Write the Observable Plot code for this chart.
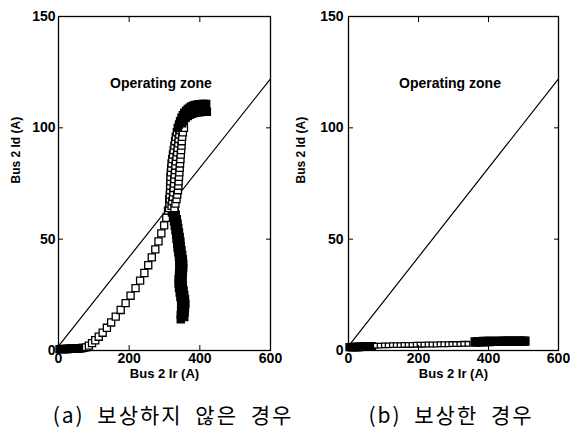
<!DOCTYPE html>
<html><head><meta charset="utf-8">
<script src="https://cdn.jsdelivr.net/npm/d3@7"></script>
<script src="https://cdn.jsdelivr.net/npm/@observablehq/plot@0.6"></script>
<style>
body{margin:0;background:#fff;}
#wrap{position:relative;width:570px;height:429px;overflow:hidden;background:#fff;}
#left,#right{position:absolute;top:0;}
#left{left:0px} #right{left:285px}
.cap{position:absolute;top:400px;font-family:"Noto Sans CJK KR",sans-serif;font-size:21px;line-height:28px;text-align:center;color:#000;white-space:nowrap;word-spacing:6px;letter-spacing:2px;}
</style></head><body>
<div id="wrap"><div id="left"></div><div id="right"></div>
<div class="cap" id="capA"></div><div class="cap" id="capB"></div></div>
<script>
// ---- texts / ticks ----
const xTicks = [0, 200, 400, 600];
const yTicks = [0, 50, 100, 150];
const xLabel = "Bus 2 Ir (A)";
const yLabel = "Bus 2 Id (A)";
const zoneLabel = "Operating zone";
const zoneIr = 290, zoneId = 120;
const captions = ["(a) 보상하지 않은 경우", "(b) 보상한 경우"];

// ---- operating characteristic line ----
const lineIr = [0, 600];
const lineId = [2, 122];

// ---- (a) without compensation ----
const aOriginIr = [3,7,11,15,19,23,27,31,35,39,43,47,51,55,59,63,67,71];
const aOriginId = [0.6,0.6,0.6,0.7,0.7,0.7,0.7,0.8,0.8,0.8,0.8,0.9,0.9,0.9,1.0,1.0,1.1,1.2];
const aRiseIr = [78,86,95,104,114,125,137,149,162,176,190,204,218,231,243,254,264,274,283,291,299,305,310];
const aRiseId = [1.4,2.2,3.3,4.6,6.2,8.0,10.2,12.6,15.2,18.2,21.3,24.6,28.0,31.4,34.8,38.3,41.8,45.4,49.0,52.6,56.2,59.6,62.8];
const aColAIr = [313,314,315,315,316,316,317,317,318,319,320,322,324,326,328,330,332,335,338];
const aColAId = [64,66,68,70,72,74,76,78,80,82,84,86,88,90,92,94,96,98,100];
const aColMIr = [320,322,324,325,326,327,328,329,330,331,332,334,336,337,339,340,342,344,347];
const aColMId = [65,67,69,71,73,75,77,79,81,83,85,87,89,91,93,95,97,99,101];
const aColBIr = [328,331,334,336,338,339,340,341,342,343,344,345,346,347,348,349,350,352,355];
const aColBId = [64,66,68,70,72,74,76,78,80,82,84,86,88,90,92,94,96,98,100];
const aArcIr = [338,341,344,348,352,356,361,366,371,376,382,388,394,400,406,412,418,350,355,360,366,372,378,384,390,396,402,408,414,420];
const aArcId = [100,101.5,103,104.5,105.7,106.8,107.7,108.5,109.1,109.6,110,110.3,110.5,110.6,110.7,110.7,110.7,102,103.5,104.5,105.3,105.9,106.3,106.6,106.8,107,107.1,107.2,107.2,107.2];
const aTrailLIr = [314,316,318,321,324,327,329,331,333,334,336,337,339,341,342,342,342,341,340,340,341,343,345,347,348,347,346,346];
const aTrailLId = [68,66,64,62,60,58,56,54,52,50,48,46,44,42,40,38,36,34,32,30,28,26,24,22,20,18,16,14];
const aTrailRIr = [326,329,332,335,337,339,341,343,345,346,348,350,352,353,353,352,351,351,352,354,356,358,359,358,357,356];
const aTrailRId = [65,63,61,59,57,55,53,51,49,47,45,43,41,39,37,35,33,31,29,27,25,23,21,19,17,15];

// ---- (b) with compensation ----
const bOriginIr = [3,7,11,15,19,23,27,31,35,39,43,47,51,55,59,63,67];
const bOriginId = [1.5,1.5,1.5,1.6,1.6,1.6,1.6,1.6,1.7,1.7,1.7,1.7,1.8,1.8,1.8,1.8,1.8];
const bSparseIr = [78,89,101,112,124,135,146,157,169,180,192,203,214,226,237,249,260,271,283,294,305,317,328,340];
const bSparseId = [2.2,2.2,2.3,2.3,2.4,2.4,2.4,2.5,2.5,2.5,2.6,2.6,2.6,2.7,2.7,2.7,2.8,2.8,2.8,2.9,2.9,2.9,3.0,3.0];
const bBlockIr = [362,370,378,386,394,402,410,418,426,434,442,450,458,466,474,482,490,498,504];
const bBlockId = [3.8,3.9,3.9,4.0,4.0,4.0,4.1,4.1,4.1,4.1,4.2,4.2,4.2,4.2,4.2,4.2,4.2,4.2,4.2];

const pts = (xs, ys) => xs.map((x, i) => ({x, y: ys[i]}));
const FONT = "'Liberation Sans', Arial, sans-serif";

function openSq(xs, ys, r = 4) {
  return Plot.dot(pts(xs, ys), {x: "x", y: "y", symbol: "square", r, stroke: "black", fill: "white", strokeWidth: 1.3});
}
function fillSq(xs, ys, r = 4) {
  return Plot.dot(pts(xs, ys), {x: "x", y: "y", symbol: "square", r, stroke: "black", fill: "black", strokeWidth: 1.3});
}

function chart({mL, mR, yPad, yLabDx, dataMarks}) {
  return Plot.plot({
    width: 285, height: 392,
    marginLeft: mL, marginRight: mR, marginTop: 16, marginBottom: 42,
    x: {domain: [0, 600]},
    y: {domain: [0, 150]},
    style: {fontFamily: FONT, fontSize: "14px", fontWeight: "bold", background: "white", color: "black", overflow: "visible"},
    marks: [
      Plot.line(pts(lineIr, lineId), {x: "x", y: "y", stroke: "black", strokeWidth: 1.2}),
      ...dataMarks,
      Plot.frame({stroke: "black", strokeWidth: 1.3}),
      Plot.axisX(xTicks, {anchor: "bottom", tickSize: -5, tickPadding: 8, label: null, fontSize: 14}),
      Plot.axisX(xTicks, {anchor: "top", tickSize: -5, tickFormat: () => "", label: null}),
      Plot.axisY(yTicks, {anchor: "left", tickSize: -5, tickPadding: yPad, label: null, fontSize: 14}),
      Plot.axisY(yTicks, {anchor: "right", tickSize: -5, tickFormat: () => "", label: null}),
      Plot.text([xLabel], {frameAnchor: "bottom", dy: 27, fontSize: 13, fontWeight: "bold"}),
      Plot.text([yLabel], {frameAnchor: "left", dx: yLabDx, rotate: -90, fontSize: 12, fontWeight: "bold"}),
      Plot.text([{x: zoneIr, y: zoneId, t: zoneLabel}], {x: "x", y: "y", text: "t", fontSize: 14, fontWeight: "bold"})
    ]
  });
}

document.getElementById("left").appendChild(chart({
  mL: 58, mR: 15, yPad: 8, yLabDx: -42,
  dataMarks: [
    fillSq(aOriginIr, aOriginId),
    openSq(aRiseIr, aRiseId),
    fillSq(aTrailLIr, aTrailLId),
    fillSq(aTrailRIr, aTrailRId),
    openSq(aColAIr, aColAId),
    openSq(aColMIr, aColMId),
    openSq(aColBIr, aColBId),
    fillSq(aArcIr, aArcId)
  ]
}));
document.getElementById("right").appendChild(chart({
  mL: 63, mR: 12, yPad: 10, yLabDx: -47,
  dataMarks: [
    fillSq(bOriginIr, bOriginId),
    openSq(bSparseIr, bSparseId, 2.6),
    fillSq(bBlockIr, bBlockId, 4.6)
  ]
}));

const capA = document.getElementById("capA");
capA.textContent = captions[0];
capA.style.left = "33px"; capA.style.width = "280px";
const capB = document.getElementById("capB");
capB.textContent = captions[1];
capB.style.left = "361px"; capB.style.width = "180px";
</script>
</body></html>
